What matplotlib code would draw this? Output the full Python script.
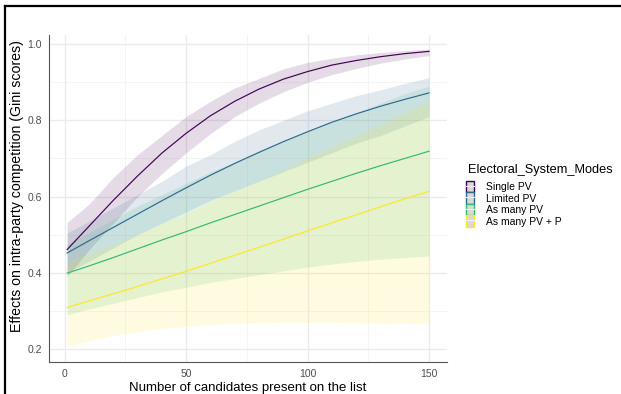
import matplotlib
matplotlib.use("Agg")
import matplotlib.pyplot as plt
from matplotlib.patches import Patch
from matplotlib.lines import Line2D
from matplotlib.legend_handler import HandlerTuple

plt.rcParams['font.family'] = ['Liberation Sans', 'DejaVu Sans']

# number of candidates on the list
candidates = [1, 10, 20, 30, 40, 50, 60, 70, 80, 90, 100, 110, 120, 130, 140, 150]

# predicted Gini scores per electoral system mode
single_pv = [0.461, 0.522, 0.590, 0.654, 0.714, 0.766, 0.812, 0.850, 0.882, 0.908,
             0.928, 0.945, 0.957, 0.967, 0.975, 0.981]
single_pv_lo = [0.39, 0.46, 0.53, 0.60, 0.66, 0.715, 0.765, 0.81, 0.845, 0.875,
                0.90, 0.92, 0.936, 0.950, 0.961, 0.970]
single_pv_hi = [0.532, 0.58, 0.65, 0.71, 0.76, 0.81, 0.85, 0.885, 0.91, 0.935,
                0.952, 0.963, 0.972, 0.978, 0.983, 0.987]

limited_pv = [0.452, 0.484, 0.519, 0.554, 0.589, 0.623, 0.656, 0.687, 0.716, 0.744,
              0.770, 0.795, 0.817, 0.837, 0.855, 0.872]
limited_pv_lo = [0.40, 0.43, 0.465, 0.50, 0.53, 0.56, 0.59, 0.615, 0.64, 0.665,
                 0.69, 0.715, 0.74, 0.76, 0.785, 0.81]
limited_pv_hi = [0.505, 0.535, 0.57, 0.605, 0.64, 0.68, 0.71, 0.745, 0.775, 0.80,
                 0.825, 0.845, 0.865, 0.88, 0.897, 0.912]

many_pv = [0.399, 0.418, 0.440, 0.463, 0.486, 0.508, 0.531, 0.553, 0.575, 0.597,
           0.619, 0.640, 0.661, 0.681, 0.700, 0.719]
many_pv_lo = [0.29, 0.305, 0.32, 0.335, 0.35, 0.362, 0.375, 0.385, 0.395, 0.405,
              0.415, 0.423, 0.43, 0.436, 0.44, 0.444]
many_pv_hi = [0.475, 0.505, 0.54, 0.575, 0.605, 0.635, 0.665, 0.69, 0.72, 0.745,
              0.77, 0.795, 0.82, 0.845, 0.87, 0.89]

many_pv_p = [0.309, 0.326, 0.345, 0.364, 0.384, 0.404, 0.425, 0.446, 0.467, 0.488,
             0.510, 0.531, 0.552, 0.573, 0.594, 0.614]
many_pv_p_lo = [0.207, 0.222, 0.235, 0.246, 0.254, 0.26, 0.264, 0.267, 0.269, 0.27,
                0.27, 0.27, 0.269, 0.268, 0.267, 0.266]
many_pv_p_hi = [0.43, 0.45, 0.475, 0.50, 0.53, 0.555, 0.585, 0.615, 0.64, 0.67,
                0.70, 0.73, 0.76, 0.79, 0.82, 0.85]

modes = ["Single PV", "Limited PV", "As many PV", "As many PV + P"]
colors = ["#440154", "#31688E", "#35B779", "#FDE725"]

series = [
    (single_pv, single_pv_lo, single_pv_hi),
    (limited_pv, limited_pv_lo, limited_pv_hi),
    (many_pv, many_pv_lo, many_pv_hi),
    (many_pv_p, many_pv_p_lo, many_pv_p_hi),
]

fig = plt.figure(figsize=(6.21, 3.94), dpi=100)
ax = fig.add_axes([0.0789, 0.0812, 0.641, 0.83])

for (mid, lo, hi), c in zip(series, colors):
    ax.fill_between(candidates, lo, hi, color=c, alpha=0.14, linewidth=0)
for (mid, lo, hi), c in zip(series, colors):
    ax.plot(candidates, mid, color=c, linewidth=0.85)

ax.set_xlim(-6.45, 157.45)
ax.set_ylim(0.166, 1.024)
ax.set_xticks([0, 50, 100, 150])
ax.set_yticks([0.2, 0.4, 0.6, 0.8, 1.0])
ax.set_xticks([25, 75, 125], minor=True)
ax.set_yticks([0.3, 0.5, 0.7, 0.9], minor=True)
ax.grid(which='major', color='#ebebeb', linewidth=1.0)
ax.grid(which='minor', color='#f2f2f2', linewidth=0.6)
ax.set_axisbelow(True)
ax.tick_params(which='both', length=0, labelsize=7.5, labelcolor='#4d4d4d', pad=5)
for s in ['top', 'right']:
    ax.spines[s].set_visible(False)
for s in ['left', 'bottom']:
    ax.spines[s].set_color('#555555')
    ax.spines[s].set_linewidth(0.8)

ax.set_xlabel("Number of candidates present on the list", fontsize=9.5, labelpad=2)
ax.set_ylabel("Effects on intra-party competition (Gini scores)", fontsize=10.2)
ax.yaxis.set_label_coords(-0.064, 0.538)

handles = []
for c in colors:
    box = Patch(facecolor='#d9d9d9', edgecolor=c, linewidth=1.0)
    mid_line = Line2D([], [], color='#f0f0f0', linewidth=0.8)
    handles.append((box, mid_line))

# legend title placed on its own, entries below it
fig.text(0.7536, 1 - 170 / 394, "Electoral_System_Modes", fontsize=9.2,
         ha='left', va='center')
fig.legend(handles, modes, loc='upper left', bbox_to_anchor=(0.7498, 0.5406),
           frameon=False, fontsize=7.5, handlelength=0.8, handleheight=1.32,
           handletextpad=1.2, labelspacing=0.0, borderaxespad=0, borderpad=0,
           handler_map={tuple: HandlerTuple(ndivide=1, pad=0)})

# outer frame (left and top edges)
fig.add_artist(Line2D([0.0085, 0.0085], [0, 0.985], color='black', linewidth=1.6,
                      transform=fig.transFigure))
fig.add_artist(Line2D([0.0085, 1.0], [0.985, 0.985], color='black', linewidth=1.6,
                      transform=fig.transFigure))

fig.savefig("out.png", dpi=100)
